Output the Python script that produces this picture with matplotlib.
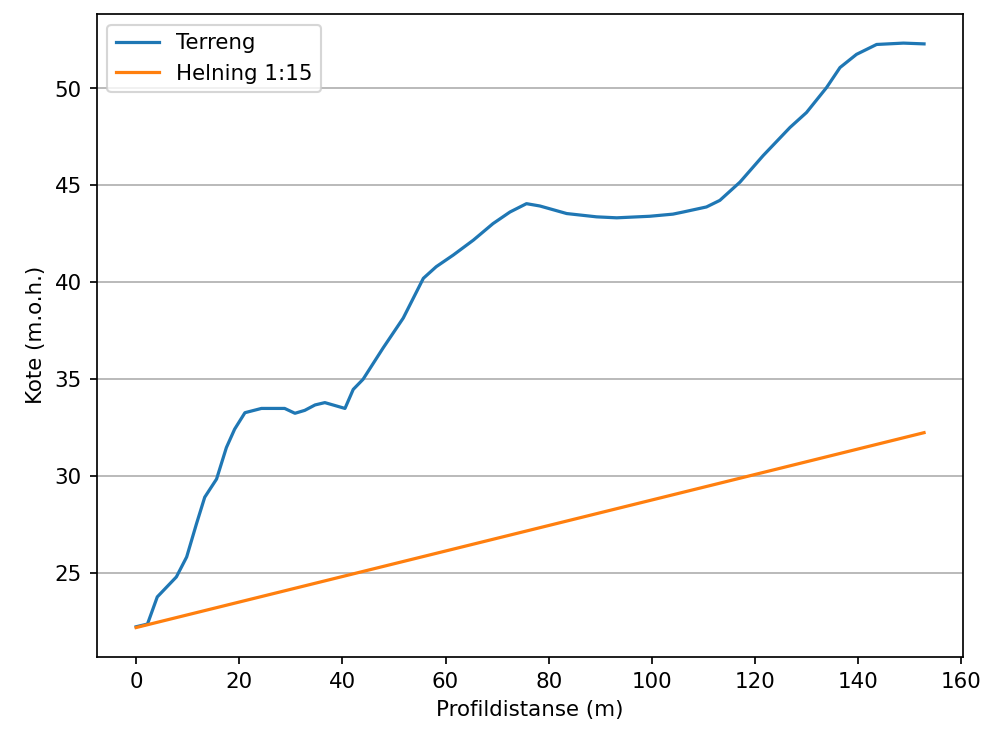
import matplotlib
matplotlib.use('Agg')
import matplotlib.pyplot as plt

# Terrengprofil
dist = [0, 2.2, 4.1, 7.8, 9.8, 11.7, 13.3, 15.6, 17.5, 19.1, 21.1, 24.3, 28.8,
        30.8, 32.7, 34.7, 36.6, 40.5, 42.1, 44.0, 47.9, 51.8, 55.7, 58.2, 61.5,
        65.4, 69.2, 72.5, 75.7, 78.3, 83.5, 89.3, 93.2, 99.6, 104.1, 106.1,
        110.6, 113.2, 117.1, 121.6, 126.8, 130.0, 133.9, 136.5, 139.7, 143.6,
        148.8, 152.8]
kote = [22.24, 22.38, 23.78, 24.81, 25.84, 27.55, 28.92, 29.86, 31.48, 32.43,
        33.28, 33.5, 33.5, 33.25, 33.4, 33.68, 33.8, 33.5, 34.48, 35.0, 36.62,
        38.16, 40.21, 40.81, 41.41, 42.18, 43.03, 43.63, 44.06, 43.94, 43.55,
        43.38, 43.33, 43.41, 43.52, 43.63, 43.89, 44.23, 45.17, 46.54, 47.99,
        48.76, 50.05, 51.08, 51.76, 52.27, 52.34, 52.3]

# Helning 1:15
hel_x = [0, 152.8]
hel_y = [22.2, 32.25]

fig, ax = plt.subplots(figsize=(6.41, 4.76), dpi=154)
fig.subplots_adjust(left=0.098, right=0.976, top=0.981, bottom=0.104)

ax.plot(dist, kote, label='Terreng')
ax.plot(hel_x, hel_y, label='Helning 1:15')
ax.grid(axis='y', color='#b0b0b0')
ax.set_xlabel('Profildistanse (m)')
ax.set_ylabel('Kote (m.o.h.)')
ax.legend(loc='upper left')

fig.savefig('out.png', dpi=154)
